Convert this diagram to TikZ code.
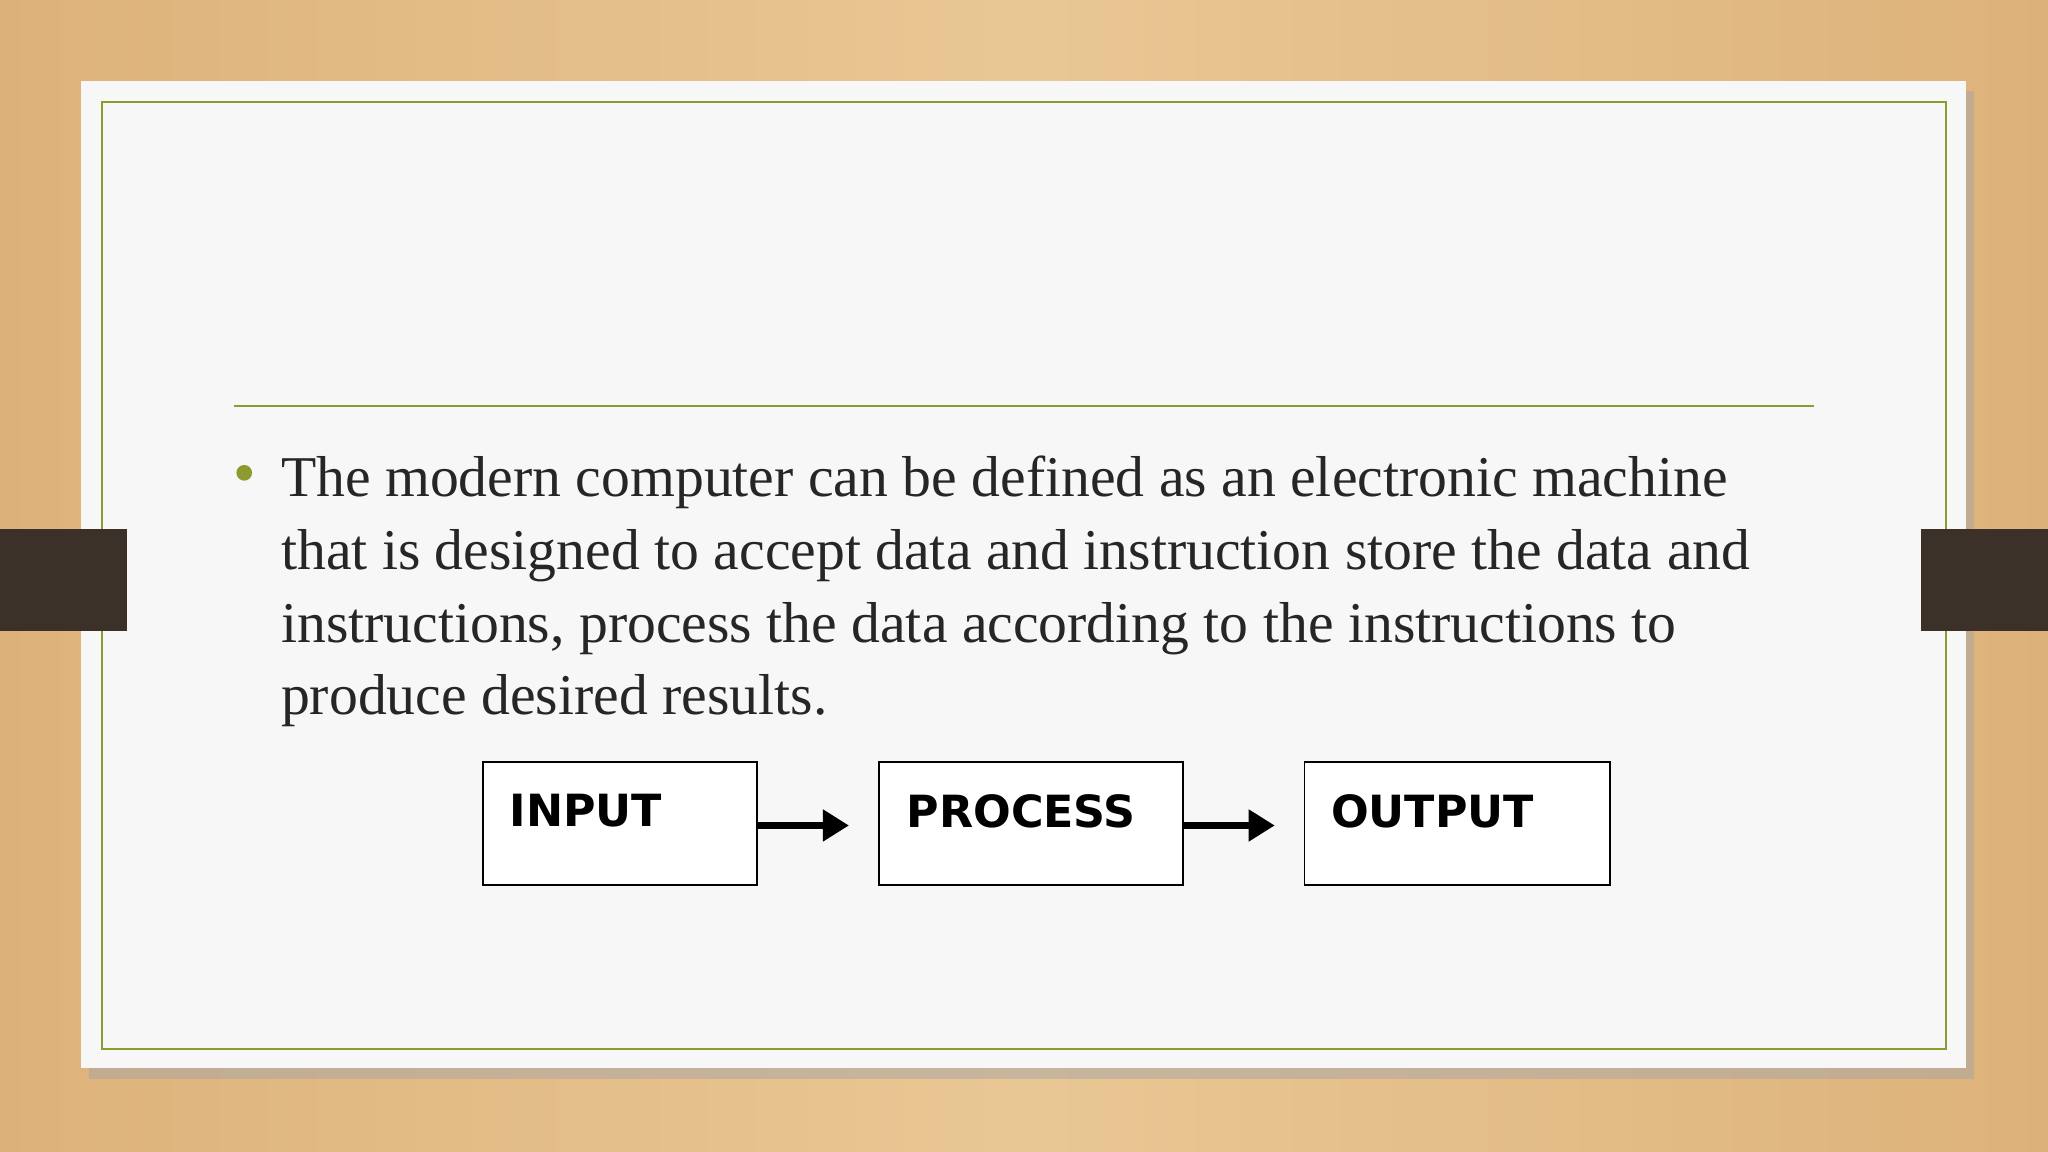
\documentclass[tikz,border=0pt]{standalone}
\usepackage{fontspec}
\setmainfont{Liberation Serif}
\newfontfamily\boxfont{DejaVu Sans}
\usetikzlibrary{arrows.meta}
\definecolor{wood}{HTML}{E9C794}
\definecolor{woodd}{HTML}{DDB27A}
\definecolor{olive}{HTML}{8C9A2E}
\definecolor{tab}{HTML}{3B3129}
\definecolor{card}{HTML}{F7F7F7}
\tikzset{flowbox/.style={draw=black,line width=0.45mm,fill=white,minimum width=#1,minimum height=28.2mm,inner sep=0pt},
 lbl/.style={font=\boxfont\bfseries\fontsize{29}{29}\selectfont,anchor=west},
 flowarrow/.style={line width=1.8mm,-{Triangle[length=6mm,width=7mm]}}}
\begin{document}
\begin{tikzpicture}[x=0.3mm,y=-0.3mm]
\useasboundingbox (0,0) rectangle (1568,882);
\shade[left color=woodd,right color=woodd,middle color=wood] (0,0) rectangle (1568,882);
\fill[black!35,opacity=0.5] (68,70) rectangle (1511,826);
\fill[card] (62,62) rectangle (1505,818);
\draw[olive,line width=0.6mm] (78,78) rectangle (1490,803);
\draw[olive,line width=0.5mm] (179,311) -- (1389,311);
\fill[tab] (0,405) rectangle (97,483);
\fill[tab] (1471,405) rectangle (1568,483);
\fill[olive] (187,362) circle (6);
\node[anchor=north west,inner sep=0pt,align=left,font=\fontsize{37.7}{47.5}\selectfont,text=black!85] (txt) at (215,349)
{The modern computer can be defined as an electronic machine\\
that is designed to accept data and instruction store the data and\\
instructions, process the data according to the instructions to\\
produce desired results.};
\node[flowbox=63mm,anchor=north west] (in) at (369,583) {};
\node[flowbox=70mm,anchor=north west] (pr) at (672,583) {};
\node[flowbox=70.2mm,anchor=north west] (out) at (998,583) {};
\node[lbl] (tin) at (386,621) {INPUT};
\node[lbl] (tpr) at (690,621) {PROCESS};
\node[lbl] (tout) at (1015,621) {OUTPUT};
\coordinate (a1) at (650,632);
\coordinate (a2) at (976,632);
\draw[flowarrow] (in.east |- a1) -- (a1);
\draw[flowarrow] (pr.east |- a2) -- (a2);
\end{tikzpicture}
\end{document}
